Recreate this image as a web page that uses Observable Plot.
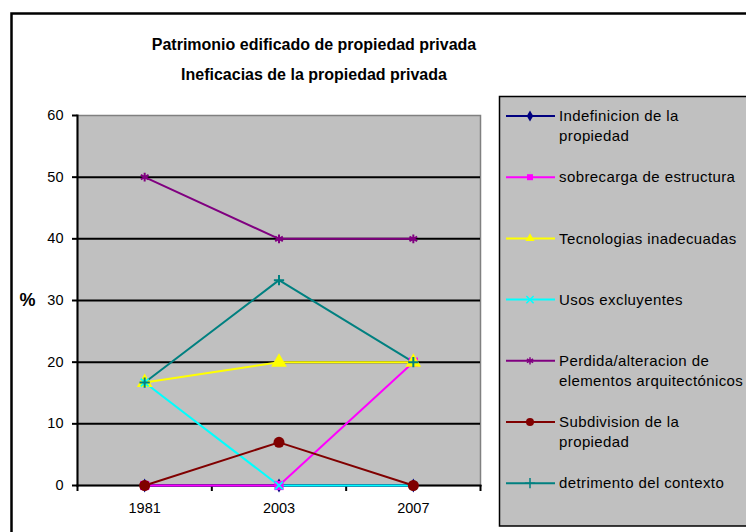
<!DOCTYPE html>
<html>
<head>
<meta charset="utf-8">
<script src="https://cdn.jsdelivr.net/npm/d3@7"></script>
<script src="https://cdn.jsdelivr.net/npm/@observablehq/plot@0.6"></script>
<style>
  html, body { margin: 0; padding: 0; background: #fff; }
  #chart { width: 746px; height: 532px; overflow: hidden; }
</style>
</head>
<body>
<div id="chart"></div>
<script>
// ---- data ----
const titleLines = ["Patrimonio edificado de propiedad privada", "Ineficacias de la propiedad privada"];
const years = ["1981", "2003", "2007"];
const yTicks = [0, 10, 20, 30, 40, 50, 60];
const seriesNames = [
  "Indefinicion de la\npropiedad",
  "sobrecarga de estructura",
  "Tecnologias inadecuadas",
  "Usos excluyentes",
  "Perdida/alteracion de\nelementos arquitectónicos",
  "Subdivision de la\npropiedad",
  "detrimento del contexto"
];
const seriesColors = ["#000080", "#FF00FF", "#FFFF00", "#00FFFF", "#800080", "#800000", "#008080"];
const seriesSymbols = ["diamond", "square", "triangle", "times", "asterisk", "circle", "plus"];
const indefinicion = [0, 0, 0];
const sobrecarga = [0, 0, 20];
const tecnologias = [16.7, 20, 20];
const usos = [16.7, 0, 0];
const perdida = [50, 40, 40];
const subdivision = [0, 7, 0];
const detrimento = [16.7, 33.3, 20];
const seriesValues = [indefinicion, sobrecarga, tecnologias, usos, perdida, subdivision, detrimento];

const rows = seriesValues.map((vals, s) => vals.map((v, i) => ({s, x: i + 0.5, year: years[i], value: v})));
const strokeSymbols = new Set(["times", "asterisk", "plus"]);
const symbolR = {diamond: 4.2, square: 5.2, triangle: 5.8, times: 3.6, asterisk: 4.2, circle: 5.5, plus: 3.4};

const seriesMarks = [];
rows.forEach((data, s) => {
  seriesMarks.push(Plot.line(data, {x: "x", y: "value", stroke: seriesColors[s], strokeWidth: 2}));
});
rows.forEach((data, s) => {
  const sym = seriesSymbols[s];
  if (strokeSymbols.has(sym)) {
    seriesMarks.push(Plot.dot(data, {x: "x", y: "value", symbol: sym, r: symbolR[sym], stroke: seriesColors[s], strokeWidth: 2, fill: "none"}));
  } else {
    seriesMarks.push(Plot.dot(data, {x: "x", y: "value", symbol: sym, r: symbolR[sym], fill: seriesColors[s], stroke: "none"}));
  }
});

const chart = Plot.plot({
  width: 746,
  height: 532,
  marginLeft: 77,
  marginRight: 266,
  marginTop: 115,
  marginBottom: 47,
  style: {fontFamily: "'Liberation Sans', Arial, sans-serif", fontSize: "15px", color: "#000", background: "transparent", overflow: "visible"},
  x: {domain: [0, 3], label: null},
  y: {domain: [0, 60], label: null},
  marks: [
    Plot.frame({fill: "#c0c0c0", stroke: "#808080", strokeWidth: 1.5}),
    Plot.ruleY(yTicks.filter(d => d > 0 && d < 60), {stroke: "#000", strokeWidth: 2}),
    Plot.axisY({ticks: yTicks, tickSize: 5, tickPadding: 9, strokeWidth: 2, label: null, fontSize: 15}),
    Plot.axisX({ticks: [0, 1, 2, 3], tickSize: 6, tickFormat: () => "", strokeWidth: 2, label: null}),
    Plot.axisX({ticks: [0.5, 1.5, 2.5], tickSize: 0, tickPadding: 17, tickFormat: d => years[Math.round(d - 0.5)], label: null, fontSize: 15}),
    Plot.frame({anchor: "left", stroke: "#000", strokeWidth: 2}),
    Plot.frame({anchor: "bottom", stroke: "#000", strokeWidth: 2}),
    ...seriesMarks,
    Plot.text(["%"], {frameAnchor: "left", dx: -50, text: d => d, fontWeight: "bold", fontSize: 18, textAnchor: "middle"}),
    Plot.text([titleLines.join("\n")], {frameAnchor: "top", dx: 35, dy: -60, text: d => d, fontWeight: "bold", fontSize: 16, lineHeight: 1.88, lineAnchor: "middle", textAnchor: "middle"})
  ]
});

document.getElementById("chart").appendChild(chart);

const svg = d3.select(chart);
// enforce tick label font size
svg.selectAll("g[aria-label='y-axis tick label'], g[aria-label='x-axis tick label']")
  .style("font-size", "14.5px").attr("font-size", "14.5");

// ---- outer border and legend ----
svg.append("rect")
  .attr("x", 11.5).attr("y", 13.5).attr("width", 800).attr("height", 600)
  .attr("fill", "none").attr("stroke", "#000").attr("stroke-width", 2.5);

const lg = svg.append("g").attr("text-anchor", "start");
lg.append("rect")
  .attr("x", 499.5).attr("y", 96.5).attr("width", 300).attr("height", 429.5)
  .attr("fill", "#c0c0c0").attr("stroke", "#000").attr("stroke-width", 1.5);

const symMap = {diamond: d3.symbolDiamond, square: d3.symbolSquare, triangle: d3.symbolTriangle, times: d3.symbolTimes, asterisk: d3.symbolAsterisk, circle: d3.symbolCircle, plus: d3.symbolPlus};
seriesNames.forEach((name, s) => {
  const y = 116 + s * 61.2;
  const g = lg.append("g");
  g.append("line").attr("x1", 506).attr("x2", 555).attr("y1", y).attr("y2", y)
    .attr("stroke", seriesColors[s]).attr("stroke-width", 2);
  const sym = seriesSymbols[s];
  const p = d3.symbol(symMap[sym], sym === "circle" ? 50 : 36)();
  const path = g.append("path").attr("d", p).attr("transform", `translate(530,${y})`);
  if (strokeSymbols.has(sym)) path.attr("fill", "none").attr("stroke", seriesColors[s]).attr("stroke-width", 1.5);
  else path.attr("fill", seriesColors[s]);
  const t = g.append("text").attr("x", 559).attr("y", y).attr("text-anchor", "start")
    .attr("font-family", "'Liberation Sans', Arial, sans-serif").attr("font-size", 15)
    .attr("letter-spacing", 0.4).attr("fill", "#000");
  name.split("\n").forEach((ln, i) => {
    t.append("tspan").attr("x", 559).attr("dy", i === 0 ? "0.35em" : "1.3em").text(ln);
  });
});
</script>
</body>
</html>
